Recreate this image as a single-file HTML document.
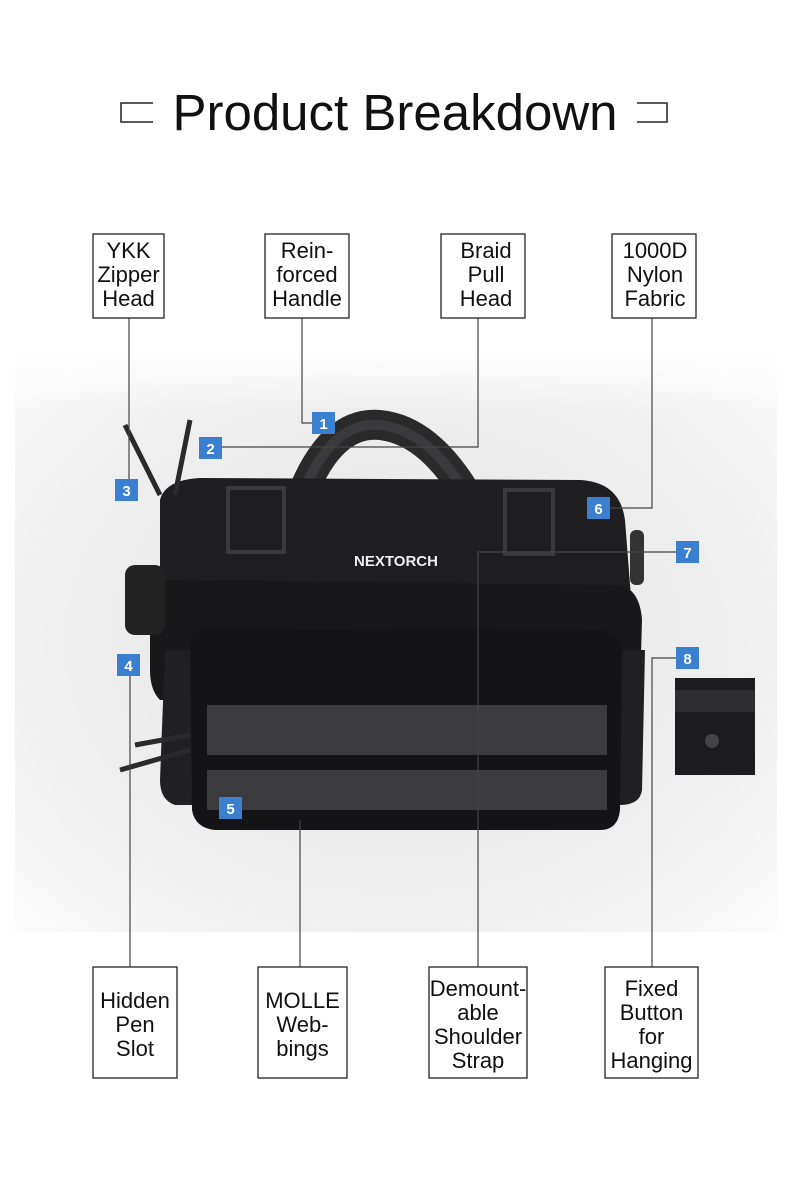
<!DOCTYPE html>
<html><head><meta charset="utf-8"><style>
html,body{margin:0;padding:0;background:#fff;}
svg{display:block;font-family:"Liberation Sans",Arial,sans-serif;}
</style></head><body>
<svg width="790" height="1180" viewBox="0 0 790 1180" xmlns="http://www.w3.org/2000/svg">
<defs>
<radialGradient id="bg" cx="0.5" cy="0.5" r="0.7">
<stop offset="0" stop-color="#e4e4e4"/><stop offset="0.7" stop-color="#f0f0f0"/><stop offset="1" stop-color="#fbfbfb"/>
</radialGradient>
<linearGradient id="fade" x1="0" y1="0" x2="0" y2="1">
<stop offset="0" stop-color="#fff" stop-opacity="1"/><stop offset="1" stop-color="#fff" stop-opacity="0"/>
</linearGradient>
</defs>
<rect width="790" height="1180" fill="#fff"/>
<rect x="15" y="350" width="762" height="582" fill="url(#bg)"/>
<rect x="15" y="350" width="762" height="60" fill="url(#fade)"/>
<path d="M153 103 H121 V122 H153" fill="none" stroke="#222" stroke-width="1.5"/>
<path d="M637 103 H667 V122 H637" fill="none" stroke="#222" stroke-width="1.5"/>
<text x="395" y="130" font-size="51" text-anchor="middle" fill="#111">Product Breakdown</text>

<!-- bag -->
<path d="M300 500 Q330 420 380 425 Q430 430 470 500" fill="none" stroke="#2a2a2b" stroke-width="30"/>
<path d="M300 500 Q330 420 380 425 Q430 430 470 500" fill="none" stroke="#3a3a3c" stroke-width="10"/>
<path d="M160 500 Q165 480 200 478 L580 480 Q620 482 625 520 L632 610 L160 610 Z" fill="#1e1e20"/>
<rect x="228" y="488" width="56" height="64" fill="none" stroke="#3a3a3c" stroke-width="4"/>
<rect x="505" y="490" width="48" height="64" fill="none" stroke="#3a3a3c" stroke-width="4"/>
<path d="M150 600 Q150 580 170 580 L620 585 Q640 590 642 620 L640 690 Q640 700 620 700 L160 700 Q150 690 150 670 Z" fill="#18181a"/>
<path d="M165 650 L645 650 L642 790 Q640 805 620 805 L175 805 Q160 800 160 780 Z" fill="#202022"/>
<path d="M190 640 Q195 628 215 628 L600 630 Q620 632 622 650 L620 810 Q618 830 600 830 L215 830 Q195 828 192 810 Z" fill="#141416"/>
<rect x="207" y="705" width="400" height="50" fill="#3b3b3e"/>
<rect x="207" y="770" width="400" height="40" fill="#3b3b3e"/>
<rect x="125" y="565" width="40" height="70" rx="10" fill="#222"/>
<rect x="630" y="530" width="14" height="55" rx="6" fill="#333"/>
<text x="396" y="566" font-size="15" font-weight="bold" fill="#eee" text-anchor="middle">NEXTORCH</text>
<path d="M125 425 L160 495 M190 420 L175 495 M120 770 L190 750 M135 745 L190 735" stroke="#2a2a2c" stroke-width="5" fill="none"/>
<rect x="675" y="678" width="80" height="97" fill="#1c1c1e"/>
<rect x="675" y="690" width="80" height="22" fill="#2e2e30"/>
<circle cx="712" cy="741" r="7" fill="#444"/>

<g stroke="#444" stroke-width="1.2" fill="none">
<path d="M129 318 V490"/>
<path d="M302 318 V423 H312"/>
<path d="M478 318 V447 H222"/>
<path d="M652 318 V508 H610"/>
<path d="M676 552 H478 V967"/>
<path d="M676 658 H652 V967"/>
<path d="M130 676 V967"/>
<path d="M300 820 V967"/>
</g>

<g font-size="15" font-weight="bold" fill="#fff" text-anchor="middle">
<rect x="312" y="412" width="23" height="22" fill="#3b7fd0"/><text x="323.5" y="429">1</text>
<rect x="199" y="437" width="23" height="22" fill="#3b7fd0"/><text x="210.5" y="454">2</text>
<rect x="115" y="479" width="23" height="22" fill="#3b7fd0"/><text x="126.5" y="496">3</text>
<rect x="117" y="654" width="23" height="22" fill="#3b7fd0"/><text x="128.5" y="671">4</text>
<rect x="219" y="797" width="23" height="22" fill="#3b7fd0"/><text x="230.5" y="814">5</text>
<rect x="587" y="497" width="23" height="22" fill="#3b7fd0"/><text x="598.5" y="514">6</text>
<rect x="676" y="541" width="23" height="22" fill="#3b7fd0"/><text x="687.5" y="558">7</text>
<rect x="676" y="647" width="23" height="22" fill="#3b7fd0"/><text x="687.5" y="664">8</text>
</g>

<g fill="#fff" stroke="#222" stroke-width="1.3">
<rect x="93" y="234" width="71" height="84"/>
<rect x="265" y="234" width="84" height="84"/>
<rect x="441" y="234" width="84" height="84"/>
<rect x="612" y="234" width="84" height="84"/>
<rect x="93" y="967" width="84" height="111"/>
<rect x="258" y="967" width="89" height="111"/>
<rect x="429" y="967" width="98" height="111"/>
<rect x="605" y="967" width="93" height="111"/>
</g>
<g font-size="22" fill="#111" text-anchor="middle">
<text x="128.5" y="258">YKK</text><text x="128.5" y="282">Zipper</text><text x="128.5" y="306">Head</text>
<text x="307" y="258">Rein-</text><text x="307" y="282">forced</text><text x="307" y="306">Handle</text>
<text x="486" y="258">Braid</text><text x="486" y="282">Pull</text><text x="486" y="306">Head</text>
<text x="655" y="258">1000D</text><text x="655" y="282">Nylon</text><text x="655" y="306">Fabric</text>
<text x="135" y="1008">Hidden</text><text x="135" y="1032">Pen</text><text x="135" y="1056">Slot</text>
<text x="302.5" y="1008">MOLLE</text><text x="302.5" y="1032">Web-</text><text x="302.5" y="1056">bings</text>
<text x="478" y="996">Demount-</text><text x="478" y="1020">able</text><text x="478" y="1044">Shoulder</text><text x="478" y="1068">Strap</text>
<text x="651.5" y="996">Fixed</text><text x="651.5" y="1020">Button</text><text x="651.5" y="1044">for</text><text x="651.5" y="1068">Hanging</text>
</g>
</svg>
</body></html>
